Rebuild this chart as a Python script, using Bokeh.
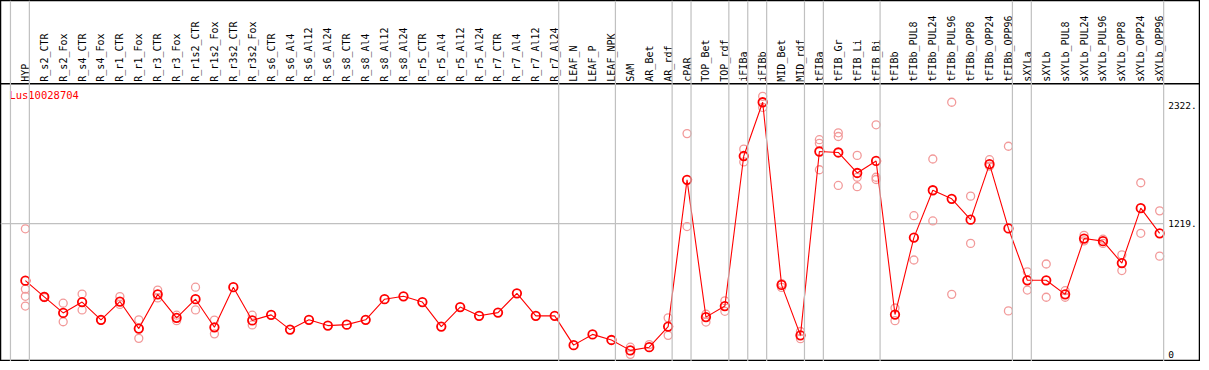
import math
from bokeh.plotting import figure
from bokeh.models import ColumnDataSource, Span
from bokeh.core.properties import value
from bokeh.embed import file_html
from bokeh.resources import INLINE

title = "Lus10028704"
categories = [
    "HYP", "R_s2_CTR", "R_s2_Fox", "R_s4_CTR", "R_s4_Fox", "R_r1_CTR", "R_r1_Fox",
    "R_r3_CTR", "R_r3_Fox", "R_r1s2_CTR", "R_r1s2_Fox", "R_r3s2_CTR", "R_r3s2_Fox",
    "R_s6_CTR", "R_s6_Al4", "R_s6_Al12", "R_s6_Al24", "R_s8_CTR", "R_s8_Al4",
    "R_s8_Al12", "R_s8_Al24", "R_r5_CTR", "R_r5_Al4", "R_r5_Al12", "R_r5_Al24",
    "R_r7_CTR", "R_r7_Al4", "R_r7_Al12", "R_r7_Al24", "LEAF_N", "LEAF_P", "LEAF_NPK",
    "SAM", "AR_Bet", "AR_rdf", "cPAR", "TOP_Bet", "TOP_rdf", "iFIBa", "iFIBb",
    "MID_Bet", "MID_rdf", "tFIBa", "tFIB_Gr", "tFIB_Li", "tFIB_Bi", "tFIBb",
    "tFIBb_PUL8", "tFIBb_PUL24", "tFIBb_PUL96", "tFIBb_OPP8", "tFIBb_OPP24",
    "tFIBb_OPP96", "sXYLa", "sXYLb", "sXYLb_PUL8", "sXYLb_PUL24", "sXYLb_PUL96",
    "sXYLb_OPP8", "sXYLb_OPP24", "sXYLb_OPP96",
]
means = [
    687, 535, 386, 487, 322, 492, 240, 559, 340, 514, 252, 626, 316,
    368, 231, 322, 268, 277, 322, 514, 541, 487, 259, 441, 359,
    389, 569, 359, 359, 86, 186, 134,
    37, 67, 259, 1626, 347, 450, 1848, 2349,
    647, 177, 1890, 1881, 1690, 1802, 371,
    1088, 1529, 1449, 1255, 1772, 1173,
    690, 690, 559, 1079, 1055, 851, 1362, 1128,
]
# replicate measurements: (category, value)
rep_cat = [
    "HYP", "HYP", "HYP", "HYP", "R_s2_CTR", "R_s2_CTR", "R_s2_Fox", "R_s2_Fox",
    "R_s4_CTR", "R_s4_CTR", "R_s4_Fox", "R_r1_CTR", "R_r1_CTR", "R_r1_Fox", "R_r1_Fox",
    "R_r3_CTR", "R_r3_CTR", "R_r3_Fox", "R_r3_Fox", "R_r1s2_CTR", "R_r1s2_CTR",
    "R_r1s2_Fox", "R_r1s2_Fox", "R_r3s2_Fox", "R_r3s2_Fox",
    "SAM", "SAM", "AR_Bet", "AR_rdf", "AR_rdf", "cPAR", "cPAR", "TOP_Bet", "TOP_Bet",
    "TOP_rdf", "TOP_rdf", "iFIBa", "iFIBa", "iFIBb", "iFIBb", "MID_Bet", "MID_Bet",
    "MID_rdf", "MID_rdf", "tFIBa", "tFIBa", "tFIBa", "tFIB_Gr", "tFIB_Gr", "tFIB_Gr",
    "tFIB_Li", "tFIB_Li", "tFIB_Li", "tFIB_Bi", "tFIB_Bi", "tFIB_Bi", "tFIBb", "tFIBb",
    "tFIBb_PUL8", "tFIBb_PUL8", "tFIBb_PUL24", "tFIBb_PUL24", "tFIBb_PUL96", "tFIBb_PUL96",
    "tFIBb_OPP8", "tFIBb_OPP8", "tFIBb_OPP24", "tFIBb_OPP24", "tFIBb_OPP96", "tFIBb_OPP96",
    "sXYLa", "sXYLa", "sXYLb", "sXYLb", "sXYLb_PUL8", "sXYLb_PUL8",
    "sXYLb_PUL24", "sXYLb_PUL24", "sXYLb_PUL96", "sXYLb_PUL96", "sXYLb_OPP8", "sXYLb_OPP8",
    "sXYLb_OPP24", "sXYLb_OPP24", "sXYLb_OPP96", "sXYLb_OPP96",
]
rep_val = [
    1170, 608, 541, 450, 540, 530, 477, 304,
    562, 414, 318, 538, 465, 322, 149,
    599, 526, 365, 314, 626, 414,
    319, 191, 365, 274,
    67, 0, 91, 340, 177, 2057, 1191, 374, 301,
    499, 401, 1912, 1793, 2404, 2301, 660, 624,
    213, 146, 2000, 1966, 1720, 2064, 2030, 1574,
    1854, 1650, 1562, 2139, 1650, 1629, 432, 314,
    1292, 879, 1820, 1243, 2349, 559,
    1474, 1034, 1814, 1754, 1939, 405,
    769, 599, 842, 532, 593, 532,
    1109, 1057, 1073, 1034, 927, 781,
    1599, 1128, 1337, 915,
]
# group boundaries: number of categories before each vertical separator
group_breaks = [0, 1, 29, 32, 35, 36, 38, 39, 40, 42, 43, 46, 53, 54, 61]
y_ticks = [0, 1219, 2322]
y_tick_labels = ["0", "1219.", "2322."]
mid_line = 1219

idx = {c: i for i, c in enumerate(categories)}
xs = list(range(len(categories)))
rep_x = [idx[c] for c in rep_cat]

x_lo, x_hi = -1.316, 62.16
y_lo, y_hi = -66.5, 3297.0
header_y = 2522.0

p = figure(width=1200, height=361, output_backend="svg", toolbar_location=None,
           x_range=(x_lo, x_hi), y_range=(y_lo, y_hi), min_border=0)
p.axis.visible = False
p.grid.visible = False
p.outline_line_color = "black"
p.outline_line_width = 1.5
p.background_fill_color = "white"
p.border_fill_color = "white"

for b in group_breaks:
    p.add_layout(Span(location=b - 0.789, dimension="height",
                      line_color="#c0c0c0", line_width=1.2))

p.segment(x0=[x_lo], y0=[mid_line], x1=[60.2], y1=[mid_line],
          line_color="#c0c0c0", line_width=1.2)
p.segment(x0=[x_lo], y0=[header_y], x1=[x_hi], y1=[header_y],
          line_color="black", line_width=1.5)

# header labels
p.text(x=xs, y=[header_y] * len(xs), text=categories, angle=math.pi / 2,
       text_align="left", text_baseline="middle", y_offset=-2,
       text_font=value("DejaVu Sans Mono"), text_font_size="10px", text_color="black")

p.text(x=[-0.85], y=[2413], text=[title], text_align="left", text_baseline="middle",
       text_font=value("DejaVu Sans Mono"), text_font_size="10.5px", text_color="red")

p.text(x=[60.45] * 3, y=y_ticks, text=y_tick_labels, text_align="left",
       text_baseline="middle", text_font=value("DejaVu Sans Mono"),
       text_font_size="9.5px", text_color="black")

rep_src = ColumnDataSource(dict(x=rep_x, y=rep_val))
p.scatter("x", "y", source=rep_src, marker="circle", size=8, fill_color=None,
          line_color="#f29a9a", line_width=1.3)

src = ColumnDataSource(dict(x=xs, y=means))
p.line("x", "y", source=src, line_color="red", line_width=1.1)
p.scatter("x", "y", source=src, marker="circle", size=8.5, fill_color=None,
          line_color="red", line_width=1.8)

open("out.html", "w").write(file_html(p, INLINE))
